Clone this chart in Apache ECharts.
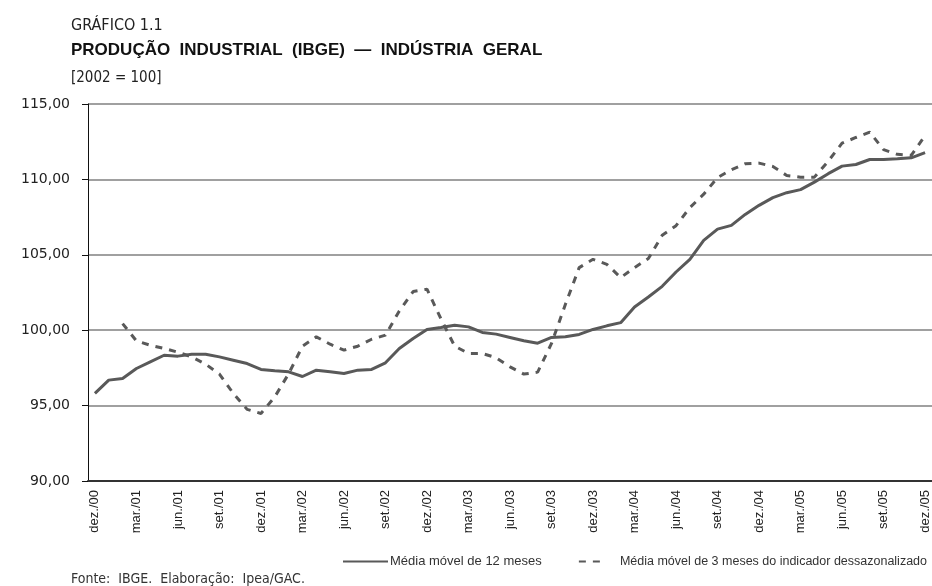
<!DOCTYPE html>
<html lang="pt">

<head>
    <meta charset="UTF-8">
    <title>Produção industrial</title>
    <style>
        body { margin: 0; background: #fff; }
        #main { width: 932px; height: 586px; }
    </style>
</head>

<body>
    <div id="main"></div>
    <script src="https://cdn.jsdelivr.net/npm/echarts@6/dist/echarts.min.js"></script>
    <script>
        // meses, dez./00 a dez./05
        var meses = [
            'dez./00', 'jan./01', 'fev./01', 'mar./01', 'abr./01', 'mai./01', 'jun./01', 'jul./01', 'ago./01', 'set./01', 'out./01', 'nov./01',
            'dez./01', 'jan./02', 'fev./02', 'mar./02', 'abr./02', 'mai./02', 'jun./02', 'jul./02', 'ago./02', 'set./02', 'out./02', 'nov./02',
            'dez./02', 'jan./03', 'fev./03', 'mar./03', 'abr./03', 'mai./03', 'jun./03', 'jul./03', 'ago./03', 'set./03', 'out./03', 'nov./03',
            'dez./03', 'jan./04', 'fev./04', 'mar./04', 'abr./04', 'mai./04', 'jun./04', 'jul./04', 'ago./04', 'set./04', 'out./04', 'nov./04',
            'dez./04', 'jan./05', 'fev./05', 'mar./05', 'abr./05', 'mai./05', 'jun./05', 'jul./05', 'ago./05', 'set./05', 'out./05', 'nov./05',
            'dez./05'
        ];

        // média móvel de 12 meses
        var mm12 = [
            95.81, 96.69, 96.80, 97.46, 97.90, 98.34, 98.28, 98.41, 98.41, 98.23, 98.01, 97.79,
            97.40, 97.31, 97.24, 96.93, 97.35, 97.24, 97.13, 97.35, 97.40, 97.84, 98.79, 99.45,
            100.05, 100.18, 100.33, 100.22, 99.85, 99.74, 99.52, 99.30, 99.14, 99.52, 99.56, 99.72,
            100.05, 100.29, 100.50, 101.54, 102.20, 102.91, 103.86, 104.70, 105.96, 106.70, 106.95, 107.68,
            108.28, 108.79, 109.12, 109.32, 109.82, 110.38, 110.88, 110.99, 111.32, 111.32, 111.37, 111.43,
            111.77
        ];

        // média móvel de 3 meses do indicador dessazonalizado
        var mm3 = [
            null, null, 100.44, 99.29, 99.00, 98.79, 98.54, 98.23, 97.75, 97.09, 95.81, 94.75,
            94.48, 95.58, 97.11, 98.94, 99.56, 99.07, 98.68, 98.94, 99.40, 99.67, 101.28, 102.56,
            102.72, 100.77, 98.94, 98.46, 98.46, 98.17, 97.57, 97.09, 97.22, 99.12, 101.70, 104.15,
            104.70, 104.37, 103.49, 104.15, 104.75, 106.29, 106.93, 108.13, 109.02, 110.12, 110.64, 111.04,
            111.08, 110.86, 110.26, 110.15, 110.15, 111.21, 112.40, 112.78, 113.13, 111.97, 111.66, 111.59,
            112.90
        ];

        var nomes = ['Média móvel de 12 meses', 'Média móvel de 3 meses do indicador dessazonalizado'];

        var fonteEstreita = '"Liberation Sans Narrow", "DejaVu Sans Condensed", "Liberation Sans", sans-serif';
        var cinza = '#595959';

        var myChart = echarts.init(document.getElementById('main'));

        option = {
            animation: false,
            title: [{
                text: 'GRÁFICO 1.1',
                left: 66, top: 13,
                textStyle: { fontFamily: fonteEstreita, fontSize: 16, fontWeight: 'normal', color: '#222' }
            }, {
                text: 'PRODUÇÃO  INDUSTRIAL  (IBGE)  —  INDÚSTRIA  GERAL',
                left: 66, top: 37,
                textStyle: { fontFamily: '"Liberation Sans", sans-serif', fontSize: 17, fontWeight: 'bold', color: '#111' }
            }, {
                text: '[2002 = 100]',
                left: 66, top: 66,
                textStyle: { fontFamily: fonteEstreita, fontSize: 15, fontWeight: 'normal', color: '#222' }
            }, {
                text: 'Fonte:  IBGE.  Elaboração:  Ipea/GAC.',
                left: 66, top: 567,
                textStyle: { fontFamily: fonteEstreita, fontSize: 14, fontWeight: 'normal', color: '#333' }
            }],
            legend: [{
                data: [nomes[0]],
                left: 337, top: 550,
                itemWidth: 45, itemHeight: 12, itemGap: 0,
                itemStyle: { color: 'transparent', borderWidth: 0 },
                textStyle: { fontFamily: '"Liberation Sans", sans-serif', fontSize: 13, color: '#333', padding: [0, 0, 0, -3] }
            }, {
                data: [nomes[1]],
                right: 0, top: 550,
                itemWidth: 28, itemHeight: 12, itemGap: 0,
                itemStyle: { color: 'transparent', borderWidth: 0 },
                textStyle: { fontFamily: '"Liberation Sans", sans-serif', fontSize: 12.5, color: '#333', padding: [0, 0, 0, 8] }
            }],
            grid: {
                left: 88,
                top: 104,
                width: 846,
                height: 377
            },
            xAxis: {
                type: 'category',
                data: meses,
                boundaryGap: true,
                axisLine: { lineStyle: { color: '#333', width: 2 } },
                axisTick: { interval: 2, length: 5, lineStyle: { color: '#333' } },
                axisLabel: {
                    interval: 2, rotate: 90, margin: 9,
                    fontFamily: '"Liberation Sans", sans-serif', fontSize: 13, color: '#222'
                },
                splitLine: { show: false }
            },
            yAxis: {
                type: 'value',
                min: 90,
                max: 115,
                interval: 5,
                axisLine: { show: true, lineStyle: { color: '#111', width: 1 } },
                axisTick: { show: true, length: 6, lineStyle: { color: '#111' } },
                axisLabel: {
                    margin: 18,
                    fontFamily: '"DejaVu Sans", sans-serif', fontSize: 14, color: '#222',
                    formatter: function (v) { return v.toFixed(2).replace('.', ','); }
                },
                splitLine: { lineStyle: { color: '#808080', width: 1.5 } }
            },
            series: [{
                name: nomes[0],
                type: 'line',
                data: mm12,
                symbol: 'none',
                lineStyle: { color: cinza, width: 3 },
                itemStyle: { color: cinza }
            }, {
                name: nomes[1],
                type: 'line',
                data: mm3,
                symbol: 'none',
                connectNulls: false,
                lineStyle: { color: cinza, width: 3, type: [7, 7] },
                itemStyle: { color: cinza }
            }]
        };
        myChart.setOption(option);
    </script>

</body>

</html>
